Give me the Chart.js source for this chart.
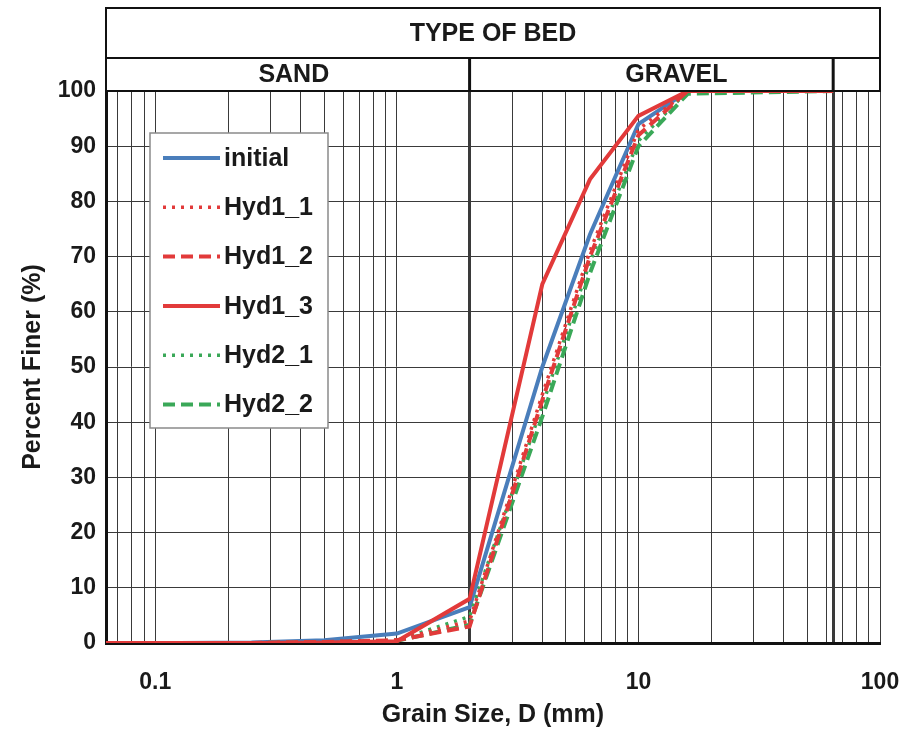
<!DOCTYPE html>
<html>
<head>
<meta charset="utf-8">
<script src="https://cdn.jsdelivr.net/npm/chart.js@4.4.1/dist/chart.umd.min.js"></script>
<style>
  html, body { margin: 0; padding: 0; background: #ffffff; }
  #wrap { width: 907px; height: 730px; }
</style>
</head>
<body>
<div id="wrap"><canvas id="c" width="907" height="730"></canvas></div>
<script>
// ---- data ----
const grainSize = [0.0625, 0.125, 0.25, 0.5, 1, 2, 4, 6.3, 10, 16, 64];
const initialVals = [0, 0, 0.1, 0.5, 1.7, 6.5, 50, 74, 94, 100, 100];
const hyd1_1Vals = [0, 0, 0, 0.2, 0.5, 4.0, 45, 71, 93, 100, 100];
const hyd1_2Vals = [0, 0, 0, 0.2, 0.5, 3.0, 44, 70, 92, 100, 100];
const hyd1_3Vals = [0, 0, 0, 0.1, 0.3, 8.0, 65, 84, 95.5, 100, 100];
const hyd2_1Vals = [0, 0, 0, 0.2, 0.5, 4.8, 43, 69, 91, 100, 100];
const hyd2_2Vals = [0, 0, 0, 0.1, 0.4, 3.3, 41, 67, 90, 99.5, 100];
const seriesNames = ['initial', 'Hyd1_1', 'Hyd1_2', 'Hyd1_3', 'Hyd2_1', 'Hyd2_2'];
const xGridVals = [0.07, 0.08, 0.09, 0.1, 0.2, 0.3, 0.4, 0.5, 0.6, 0.7, 0.8, 0.9, 1,
  2, 3, 4, 5, 6, 7, 8, 9, 10, 20, 30, 40, 50, 60, 64, 70, 80, 90, 100];
const xLabelVals = [0.1, 1, 10, 100];
const bedBounds = [2, 64];           // sand/gravel and gravel/cobble limits (mm)
const headerTitle = 'TYPE OF BED';
const bedNames = ['SAND', 'GRAVEL'];

const BLUE = '#4a7ebb', RED = '#e23a3a', GREEN = '#3aa858';
const FONT = '"Liberation Sans", Arial, sans-serif';
const pts = vals => grainSize.map((x, i) => ({ x: x, y: vals[i] }));

const datasets = [
  { label: seriesNames[0], data: pts(initialVals), borderColor: BLUE, borderWidth: 4, borderDash: [], order: 3 },
  { label: seriesNames[1], data: pts(hyd1_1Vals), borderColor: RED, borderWidth: 3.5, borderDash: [3, 6], order: 2 },
  { label: seriesNames[2], data: pts(hyd1_2Vals), borderColor: RED, borderWidth: 4, borderDash: [12, 6], order: 2 },
  { label: seriesNames[3], data: pts(hyd1_3Vals), borderColor: RED, borderWidth: 4, borderDash: [], order: 1 },
  { label: seriesNames[4], data: pts(hyd2_1Vals), borderColor: GREEN, borderWidth: 3.5, borderDash: [3, 6], order: 2 },
  { label: seriesNames[5], data: pts(hyd2_2Vals), borderColor: GREEN, borderWidth: 4, borderDash: [12, 6], order: 2 }
].map(d => Object.assign(d, { fill: false, tension: 0, pointRadius: 0, backgroundColor: d.borderColor }));

const headerPlugin = {
  id: 'header',
  afterDraw(chart) {
    const { ctx, chartArea: a, scales: { x } } = chart;
    const top = 8, mid = 58;
    ctx.save();
    ctx.strokeStyle = '#111';
    ctx.lineWidth = 2;
    ctx.strokeRect(a.left, top, a.right - a.left, a.top - top);
    ctx.beginPath(); ctx.moveTo(a.left, mid); ctx.lineTo(a.right, mid); ctx.stroke();
    ctx.lineWidth = 3;
    bedBounds.forEach(b => {
      const px = x.getPixelForValue(b);
      ctx.beginPath(); ctx.moveTo(px, mid); ctx.lineTo(px, a.top); ctx.stroke();
    });
    ctx.fillStyle = '#1a1a1a';
    ctx.textAlign = 'center'; ctx.textBaseline = 'middle';
    ctx.font = 'bold 25px ' + FONT;
    ctx.fillText(headerTitle, (a.left + a.right) / 2, (top + mid) / 2 + 1);
    const b0 = x.getPixelForValue(bedBounds[0]);
    const b1 = x.getPixelForValue(bedBounds[1]);
    ctx.fillText(bedNames[0], (a.left + b0) / 2 + 6, (mid + a.top) / 2 + 1);
    ctx.fillText(bedNames[1], (b0 + b1) / 2 + 25, (mid + a.top) / 2 + 1);
    ctx.restore();
  }
};

const legendPlugin = {
  id: 'boxLegend',
  afterDatasetsDraw(chart) {
    const { ctx } = chart;
    const bx = 150, by = 133, bw = 178, bh = 295;
    ctx.save();
    ctx.fillStyle = '#ffffff';
    ctx.fillRect(bx, by, bw, bh);
    ctx.strokeStyle = '#8a8a8a'; ctx.lineWidth = 1.5;
    ctx.strokeRect(bx, by, bw, bh);
    ctx.font = 'bold 25px ' + FONT;
    ctx.textAlign = 'left'; ctx.textBaseline = 'middle';
    chart.data.datasets.forEach((d, i) => {
      const y = 158 + i * 49.3;
      ctx.beginPath();
      ctx.strokeStyle = d.borderColor;
      ctx.lineWidth = d.borderWidth;
      ctx.setLineDash(d.borderDash || []);
      ctx.moveTo(163, y); ctx.lineTo(220, y);
      ctx.stroke();
      ctx.setLineDash([]);
      ctx.fillStyle = '#1a1a1a';
      ctx.fillText(d.label, 224, y + 1);
    });
    ctx.restore();
  }
};

new Chart(document.getElementById('c'), {
  type: 'line',
  data: { datasets: datasets },
  plugins: [headerPlugin, legendPlugin],
  options: {
    responsive: false,
    animation: false,
    layout: { padding: { top: 91, right: 27, left: 0, bottom: 0 } },
    plugins: { legend: { display: false }, tooltip: { enabled: false } },
    scales: {
      x: {
        type: 'logarithmic',
        min: 0.0625,
        max: 100,
        afterBuildTicks: s => { s.ticks = xGridVals.map(v => ({ value: v })); },
        afterFit: s => { s.height = 87; s.paddingLeft = 0; s.paddingRight = 0; },
        ticks: {
          autoSkip: false, maxRotation: 0, minRotation: 0, padding: 26,
          color: '#1a1a1a',
          font: { family: FONT, size: 23, weight: 'bold' },
          callback: v => xLabelVals.includes(v) ? String(v) : ''
        },
        grid: {
          drawTicks: false,
          color: '#3a3a3a',
          lineWidth: c => (c.tick && bedBounds.includes(c.tick.value)) ? 3 : 1
        },
        border: { display: true, color: '#111', width: 3 },
        title: {
          display: true, text: 'Grain Size, D (mm)', color: '#1a1a1a',
          font: { family: FONT, size: 25, weight: 'bold' }, padding: { top: 0, bottom: 0 }
        }
      },
      y: {
        type: 'linear',
        min: 0, max: 100,
        afterFit: s => { s.width = 106; s.paddingTop = 0; s.paddingBottom = 0; },
        ticks: {
          stepSize: 10, padding: 10, color: '#1a1a1a',
          font: { family: FONT, size: 23, weight: 'bold' }
        },
        grid: { drawTicks: false, color: '#3a3a3a', lineWidth: 1 },
        border: { display: true, color: '#111', width: 3 },
        title: {
          display: true, text: 'Percent Finer (%)', color: '#1a1a1a',
          font: { family: FONT, size: 25, weight: 'bold' }, padding: { top: 18, bottom: 0 }
        }
      }
    }
  }
});
</script>
</body>
</html>
